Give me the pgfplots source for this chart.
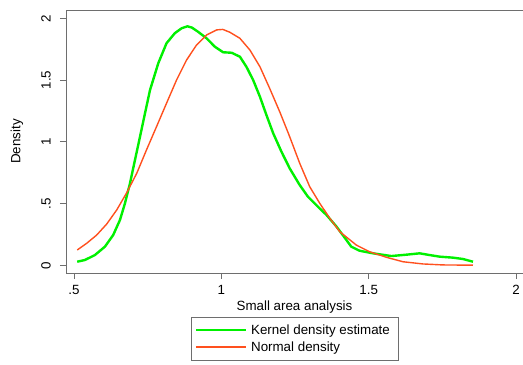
\documentclass[border=0pt]{standalone}
\usepackage{pgfplots}
\pgfplotsset{compat=1.18}
\usepackage{fontspec}
\setmainfont{Liberation Sans}
\definecolor{kgreen}{RGB}{0,240,0}
\definecolor{nred}{RGB}{255,80,30}
\definecolor{axgray}{RGB}{110,110,110}
\begin{document}
\begin{tikzpicture}
\begin{axis}[
  at={(0,0)}, anchor=south west,
  scale only axis, width=457bp, height=263bp,
  xmin=0.4729, xmax=2.0237, ymin=-0.0623, ymax=2.0672,
  axis line style={draw=none},
  xtick={0.5,1,1.5,2}, xticklabels={.5,1,1.5,2},
  ytick={0,0.5,1,1.5,2}, yticklabels={0,.5,1,1.5,2},
  xtick pos=bottom, ytick pos=left,
  tick align=outside, major tick length=6bp,
  tick style={axgray, line width=0.8bp},
  ticklabel style={font=\fontsize{13.4}{15}\selectfont},
  xticklabel style={anchor=center, yshift=-10.5bp},
  yticklabel style={rotate=90, anchor=center, yshift=14bp},
  every axis x label/.style={at={(rel axis cs:0.5,0)}, yshift=-34bp, anchor=center},
  every axis y label/.style={at={(rel axis cs:0,0.5)}, xshift=-49bp, rotate=90, anchor=center},
  label style={font=\fontsize{13.4}{15}\selectfont},
  xlabel={Small area analysis}, ylabel={Density},
  legend style={at={(axis description cs:0.5,-0.1673)}, anchor=north,
    draw=axgray, font=\fontsize{13.4}{15}\selectfont,
    inner xsep=4bp, inner ysep=6bp, row sep=3bp,
    nodes={inner xsep=4bp, inner ysep=1.5bp}},
  legend cell align=left,
  legend image code/.code={\draw[#1, line width=2bp] (0bp,0bp) -- (50bp,0bp);},
]
\addplot[kgreen, line width=2.4bp, line join=round] coordinates {
(0.511,0.029) (0.537,0.043) (0.571,0.083) (0.605,0.151) (0.633,0.245)
(0.656,0.367) (0.673,0.502) (0.690,0.664) (0.707,0.853) (0.724,1.041)
(0.741,1.231) (0.758,1.419) (0.786,1.636) (0.814,1.798) (0.842,1.879)
(0.865,1.919) (0.885,1.935) (0.900,1.925) (0.921,1.891) (0.950,1.838)
(0.978,1.770) (1.006,1.725) (1.035,1.721) (1.063,1.689) (1.085,1.608)
(1.108,1.500) (1.131,1.365) (1.153,1.217) (1.176,1.069) (1.204,0.920)
(1.232,0.785) (1.266,0.650) (1.294,0.555) (1.328,0.474) (1.357,0.407)
(1.391,0.313) (1.441,0.151) (1.469,0.118) (1.515,0.097) (1.577,0.075)
(1.628,0.086) (1.673,0.097) (1.707,0.083) (1.741,0.070) (1.786,0.062)
(1.820,0.051) (1.854,0.029)
};
\addlegendentry{Kernel density estimate}
\addplot[nred, line width=1.4bp, line join=round] coordinates {
(0.511,0.124) (0.543,0.178) (0.577,0.245) (0.611,0.334) (0.645,0.448)
(0.679,0.588) (0.713,0.745) (0.746,0.934) (0.780,1.122) (0.814,1.312)
(0.848,1.500) (0.882,1.662) (0.916,1.784) (0.950,1.865) (0.984,1.906)
(1.005,1.910) (1.029,1.887) (1.063,1.838) (1.097,1.743) (1.131,1.608)
(1.164,1.433) (1.198,1.244) (1.232,1.041) (1.266,0.826) (1.300,0.636)
(1.334,0.502) (1.368,0.381) (1.402,0.272) (1.458,0.164) (1.503,0.110)
(1.560,0.065) (1.616,0.029) (1.684,0.011) (1.752,0.003) (1.854,0.001)
};
\addlegendentry{Normal density}
\draw[axgray, line width=0.9bp] (rel axis cs:1,1) -- (rel axis cs:0,1) -- (rel axis cs:0,0) -- (rel axis cs:1,0);
\end{axis}
\pgfresetboundingbox
\path (-66bp,-92bp) rectangle (457bp,273bp);
\end{tikzpicture}
\end{document}
